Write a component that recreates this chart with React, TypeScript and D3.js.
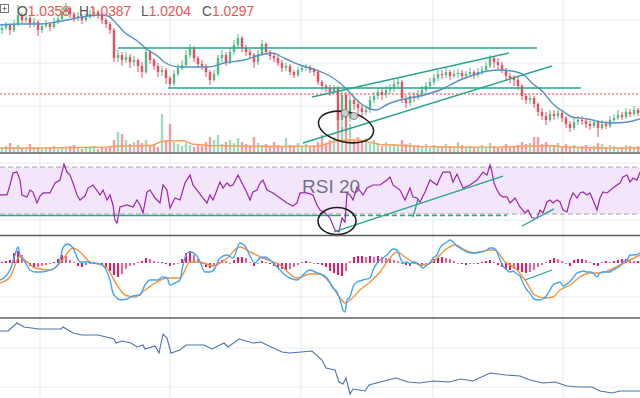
import React from "react";
import * as d3 from "d3";

const W = 640;
const H = 398;
const N = 160;

// candles: open = previous close
const firstOpen = 1.065;
const closes = [
  1.0660, 1.0675, 1.0650, 1.0680, 1.0725, 1.0700, 1.0710, 1.0680, 1.0690, 1.0650,
  1.0670, 1.0680, 1.0665, 1.0690, 1.0705, 1.0740, 1.0760, 1.0730, 1.0710, 1.0720,
  1.0700, 1.0715, 1.0730, 1.0740, 1.0725, 1.0700, 1.0680, 1.0650, 1.0510, 1.0525,
  1.0500, 1.0515, 1.0490, 1.0500, 1.0470, 1.0440, 1.0540, 1.0500, 1.0470, 1.0440,
  1.0450, 1.0410, 1.0380, 1.0430, 1.0460, 1.0475, 1.0525, 1.0560, 1.0510, 1.0480,
  1.0470, 1.0440, 1.0400, 1.0430, 1.0510, 1.0525, 1.0490, 1.0540, 1.0575, 1.0610,
  1.0560, 1.0540, 1.0525, 1.0490, 1.0530, 1.0580, 1.0540, 1.0520, 1.0510, 1.0485,
  1.0460, 1.0470, 1.0440, 1.0425, 1.0450, 1.0460, 1.0465, 1.0450, 1.0440, 1.0390,
  1.0370, 1.0360, 1.0340, 1.0360, 1.0200, 1.0325, 1.0210, 1.0300, 1.0280, 1.0260,
  1.0240, 1.0250, 1.0300, 1.0320, 1.0340, 1.0325, 1.0350, 1.0360, 1.0380, 1.0390,
  1.0310, 1.0285, 1.0320, 1.0310, 1.0330, 1.0350, 1.0370, 1.0390, 1.0410, 1.0430,
  1.0425, 1.0440, 1.0420, 1.0430, 1.0435, 1.0420, 1.0430, 1.0440, 1.0425, 1.0440,
  1.0450, 1.0470, 1.0510, 1.0490, 1.0475, 1.0450, 1.0420, 1.0410, 1.0400, 1.0370,
  1.0320, 1.0300, 1.0310, 1.0280, 1.0240, 1.0220, 1.0200, 1.0230, 1.0220, 1.0235,
  1.0210, 1.0180, 1.0160, 1.0190, 1.0200, 1.0195, 1.0180, 1.0170, 1.0190, 1.0160,
  1.0180, 1.0170, 1.0200, 1.0210, 1.0225, 1.0215, 1.0240, 1.0230, 1.0250, 1.0235,
];
const highs = [
  1.0680, 1.0690, 1.0680, 1.0700, 1.0775, 1.0735, 1.0730, 1.0720, 1.0710, 1.0700,
  1.0685, 1.0700, 1.0690, 1.0710, 1.0725, 1.0770, 1.0785, 1.0770, 1.0740, 1.0740,
  1.0730, 1.0735, 1.0750, 1.0760, 1.0750, 1.0735, 1.0710, 1.0690, 1.0660, 1.0550,
  1.0540, 1.0540, 1.0530, 1.0520, 1.0510, 1.0490, 1.0560, 1.0550, 1.0510, 1.0485,
  1.0470, 1.0460, 1.0420, 1.0450, 1.0480, 1.0500, 1.0550, 1.0580, 1.0570, 1.0520,
  1.0500, 1.0480, 1.0450, 1.0450, 1.0525, 1.0550, 1.0540, 1.0560, 1.0600, 1.0630,
  1.0620, 1.0575, 1.0555, 1.0535, 1.0550, 1.0600, 1.0590, 1.0550, 1.0535, 1.0520,
  1.0500, 1.0485, 1.0480, 1.0450, 1.0465, 1.0475, 1.0480, 1.0475, 1.0460, 1.0450,
  1.0400, 1.0380, 1.0375, 1.0375, 1.0370, 1.0350, 1.0340, 1.0325, 1.0315, 1.0300,
  1.0280, 1.0270, 1.0320, 1.0340, 1.0360, 1.0360, 1.0370, 1.0380, 1.0400, 1.0410,
  1.0400, 1.0325, 1.0340, 1.0340, 1.0350, 1.0370, 1.0390, 1.0410, 1.0430, 1.0450,
  1.0450, 1.0460, 1.0450, 1.0450, 1.0455, 1.0450, 1.0445, 1.0460, 1.0450, 1.0460,
  1.0470, 1.0490, 1.0525, 1.0520, 1.0510, 1.0490, 1.0460, 1.0435, 1.0425, 1.0415,
  1.0380, 1.0330, 1.0325, 1.0320, 1.0290, 1.0260, 1.0240, 1.0250, 1.0250, 1.0255,
  1.0250, 1.0220, 1.0195, 1.0210, 1.0220, 1.0220, 1.0210, 1.0195, 1.0205, 1.0200,
  1.0200, 1.0195, 1.0220, 1.0230, 1.0250, 1.0240, 1.0260, 1.0255, 1.0270, 1.0260,
];
const lows = [
  1.0630, 1.0650, 1.0625, 1.0640, 1.0670, 1.0680, 1.0685, 1.0660, 1.0665, 1.0620,
  1.0635, 1.0660, 1.0645, 1.0655, 1.0680, 1.0695, 1.0725, 1.0710, 1.0690, 1.0695,
  1.0680, 1.0690, 1.0705, 1.0715, 1.0705, 1.0680, 1.0660, 1.0630, 1.0490, 1.0490,
  1.0470, 1.0485, 1.0460, 1.0470, 1.0440, 1.0410, 1.0430, 1.0480, 1.0450, 1.0415,
  1.0420, 1.0380, 1.0360, 1.0370, 1.0420, 1.0450, 1.0460, 1.0510, 1.0490, 1.0460,
  1.0450, 1.0415, 1.0375, 1.0390, 1.0420, 1.0490, 1.0470, 1.0480, 1.0525, 1.0560,
  1.0540, 1.0520, 1.0510, 1.0460, 1.0475, 1.0520, 1.0525, 1.0500, 1.0490, 1.0470,
  1.0440, 1.0445, 1.0425, 1.0410, 1.0415, 1.0440, 1.0445, 1.0435, 1.0420, 1.0375,
  1.0350, 1.0340, 1.0320, 1.0330, 1.0150, 1.0140, 1.0140, 1.0190, 1.0250, 1.0230,
  1.0215, 1.0225, 1.0235, 1.0285, 1.0305, 1.0300, 1.0310, 1.0330, 1.0340, 1.0360,
  1.0285, 1.0260, 1.0270, 1.0290, 1.0300, 1.0315, 1.0335, 1.0355, 1.0375, 1.0395,
  1.0405, 1.0410, 1.0400, 1.0410, 1.0410, 1.0400, 1.0405, 1.0415, 1.0405, 1.0415,
  1.0425, 1.0440, 1.0460, 1.0460, 1.0450, 1.0435, 1.0400, 1.0385, 1.0370, 1.0350,
  1.0300, 1.0280, 1.0280, 1.0260, 1.0220, 1.0200, 1.0175, 1.0190, 1.0200, 1.0205,
  1.0190, 1.0160, 1.0140, 1.0150, 1.0175, 1.0175, 1.0160, 1.0150, 1.0160, 1.0115,
  1.0150, 1.0155, 1.0160, 1.0190, 1.0200, 1.0200, 1.0205, 1.0215, 1.0220, 1.0220,
];
const volumes = [
  100, 150, 225, 125, 175, 100, 75, 200, 125, 100,
  75, 125, 100, 150, 75, 100, 125, 150, 175, 100,
  75, 125, 100, 150, 75, 125, 100, 150, 300, 500,
  450, 300, 200, 250, 300, 225, 300, 150, 200, 125,
  950, 300, 700, 250, 200, 150, 225, 175, 125, 200,
  150, 250, 375, 300, 425, 200, 250, 300, 225, 350,
  250, 200, 150, 375, 225, 175, 200, 150, 250, 175,
  125, 350, 175, 125, 225, 150, 200, 125, 175, 250,
  425, 225, 300, 375, 1000, 625, 925, 700, 300, 375,
  250, 350, 200, 300, 225, 150, 250, 175, 200, 150,
  300, 200, 225, 150, 175, 125, 200, 100, 175, 150,
  125, 200, 150, 125, 250, 175, 125, 150, 100, 125,
  175, 125, 225, 150, 125, 100, 200, 125, 150, 175,
  250, 200, 225, 375, 375, 200, 250, 175, 150, 225,
  150, 200, 125, 175, 100, 150, 175, 125, 150, 225,
  200, 125, 175, 150, 100, 125, 175, 150, 125, 150,
];

// moving average on price, [bar, price]
const priceMa = [
  [0, 1.0675], [5, 1.068], [10, 1.068], [14, 1.069], [18, 1.0705], [22, 1.072], [25, 1.0725], [27, 1.072],
  [29, 1.0685], [31, 1.064], [34, 1.06], [37, 1.055], [40, 1.051], [41, 1.049], [45, 1.0465], [49, 1.0465],
  [52, 1.0465], [56, 1.0485], [61, 1.05], [65, 1.0525], [68, 1.0535], [71, 1.051], [75, 1.0475], [79, 1.045],
  [82, 1.0425], [85, 1.0385], [88, 1.0325], [90, 1.0285], [92, 1.026], [94, 1.025], [97, 1.028], [100, 1.03],
  [105, 1.032], [110, 1.035], [115, 1.04], [120, 1.0435], [122, 1.0445], [125, 1.045], [128, 1.0445],
  [131, 1.0425], [133, 1.0385], [136, 1.0335], [138, 1.0285], [141, 1.024], [143, 1.0215], [147, 1.0205],
  [150, 1.019], [153, 1.0185], [157, 1.019], [160, 1.0205],
];
const volumeMa = [
  [0, 100], [10, 100], [20, 110], [27, 125], [30, 150], [38, 160], [40, 250], [42, 280], [46, 280], [48, 200],
  [52, 160], [60, 150], [70, 140], [80, 150], [84, 275], [86, 300], [90, 300], [92, 250], [95, 190], [100, 170],
  [105, 140], [115, 120], [125, 125], [133, 150], [138, 165], [140, 140], [145, 110], [150, 100], [160, 100],
];

const rsi = [
  [0, 46.2], [1.75, 46.2], [2.5, 54.7], [3.25, 64.9], [4.25, 65.7], [5, 58.9], [5.5, 46.2], [6.75, 44.5], [7.5, 50.4], [8.25, 48.7],
  [9.25, 39.4], [10, 45.3], [10.75, 47.9], [12.5, 47.9], [13.75, 56.4], [15, 58.9], [16, 72.6], [16.75, 65.7], [17.5, 63.2], [18.25, 56.4],
  [19.25, 46.2], [20, 41.9], [21.25, 45.3], [22, 52.1], [23.25, 54.7], [25, 46.2], [25.75, 50.4], [26.75, 41.9], [27.5, 46.2], [28.25, 37.7],
  [28.75, 24.9], [29.25, 22.3], [30, 36.0], [31.75, 37.7], [33.25, 36.0], [34.25, 41.9], [35, 37.7], [35.75, 30.9], [36.75, 48.7], [37.5, 50.4],
  [38.75, 43.6], [40, 39.4], [40.75, 54.7], [41.75, 50.4], [42.5, 35.1], [43.75, 43.6], [45, 41.9], [46.25, 56.4], [47.5, 63.2], [48.25, 54.7],
  [49.25, 50.4], [50.75, 43.6], [51.75, 39.4], [52.5, 46.2], [53.25, 41.9], [54.25, 50.4], [55, 57.2], [55.75, 52.1], [56.75, 56.4], [57.5, 53.8],
  [58.25, 54.7], [59.5, 63.2], [60.75, 54.7], [61.75, 47.9], [62.5, 41.9], [63.25, 48.7], [64.25, 50.4], [65, 56.4], [65.75, 58.9], [66.75, 50.4],
  [68.25, 47.9], [70, 43.6], [71.75, 39.4], [73.25, 36.8], [74.25, 39.4], [75, 47.9], [76.75, 47.9], [78.25, 46.2], [79.25, 37.7], [80, 33.4],
  [81.25, 30.9], [82.5, 26.6], [83.75, 16.4], [84.75, 14.7], [85.5, 26.6], [86.25, 23.2], [86.75, 47.9], [87.5, 46.2], [88.25, 41.9], [89.25, 53.0],
  [90.75, 46.2], [91.75, 52.1], [93.25, 54.7], [95, 54.7], [96.75, 58.9], [97.5, 61.5], [98.25, 54.7], [100, 50.4], [101.25, 41.9], [102.5, 52.1],
  [103.25, 44.5], [104.25, 43.6], [105, 40.2], [106.25, 48.7], [107.5, 58.9], [109.25, 54.7], [110, 60.6], [110.75, 65.7], [112.5, 65.7], [113.25, 57.2],
  [114.25, 64.0], [115.75, 52.1], [117.5, 54.7], [119.25, 58.9], [120.75, 65.7], [121.75, 63.2], [122.5, 71.7], [123, 65.7], [123.5, 56.4], [124.25, 50.4],
  [125, 46.2], [125.75, 44.5], [126.75, 44.5], [127.5, 39.4], [128.75, 43.6], [130, 36.0], [131.25, 30.9], [132, 33.4], [133, 26.6], [134.25, 26.6],
  [135, 33.4], [135.75, 30.9], [136.75, 40.2], [137.5, 41.9], [138.25, 39.4], [139.25, 41.9], [140, 40.2], [140.75, 33.4], [141.75, 31.7], [142.5, 41.9],
  [143.25, 47.9], [144.25, 43.6], [145, 47.9], [145.75, 48.7], [146.75, 46.2], [147.5, 47.9], [148.25, 41.9], [149.25, 33.4], [150, 43.6], [150.75, 48.7],
  [151.75, 47.9], [153.25, 52.1], [154.25, 54.7], [155, 56.4], [155.75, 61.5], [156.75, 63.2], [157.5, 57.2], [158.25, 60.6], [159.25, 58.9], [160, 65.7],
];

// MACD in pips
const macd = [
  [0, -17], [1.25, -14], [2.5, -7], [3.75, 8], [4.5, 16], [5, 8], [6.25, 1], [7.5, -7], [8.75, -9], [10, -9],
  [11.75, -8], [13.75, -5], [15, 3], [15.75, 15], [16.75, 19], [18.25, 15], [19.25, 6], [20, 1], [21.75, 1], [23.25, 0],
  [25, -1], [26.25, -5], [27.5, -17], [28.25, -30], [29.25, -35], [30, -37], [31.75, -36], [33.25, -33], [35, -32], [36.25, -22],
  [37.5, -17], [39.25, -17], [40.75, -14], [41.75, -15], [42.5, -22], [43.75, -20], [45, -17], [45.75, -2], [46.75, 10], [47.5, 11],
  [49.25, 7], [50, 1], [51.25, -9], [52.5, -9], [53.75, -5], [55, 5], [56.75, 8], [58.25, 5], [60, 20], [61.25, 17],
  [62.5, 7], [63.75, 0], [65, 5], [66.25, 6], [67.5, 3], [68.75, -2], [70, -7], [71.25, -12], [72.5, -15], [74.25, -17],
  [75, -15], [76.25, -10], [77.5, -7], [78.75, -9], [80, -11], [81.75, -15], [83.25, -25], [84.25, -29], [85, -37], [85.75, -47],
  [86.25, -49], [86.75, -37], [87.5, -34], [88.25, -24], [89.25, -19], [90.75, -17], [92.5, -15], [93.25, -7], [94.25, 0], [95.75, 5],
  [96.75, 8], [98.25, 14], [99.25, 13], [100, 6], [100.75, 0], [101.75, 1], [102.5, -1], [103.25, 1], [104.25, 0], [105, -3],
  [105.75, -5], [106.75, -2], [107.5, 0], [108.25, 5], [109.25, 8], [110, 15], [111.75, 21], [112.5, 23], [113.25, 21], [114.25, 17],
  [115, 15], [115.75, 13], [116.75, 11], [118.25, 10], [120, 11], [121.75, 13], [122.5, 15], [123.25, 15], [124.25, 11], [125, 3],
  [125.75, -3], [126.75, -7], [127.5, -9], [128.25, -8], [129.25, -11], [130, -13], [130.75, -20], [131.75, -27], [132.5, -30], [133.25, -35],
  [134.25, -37], [135, -37], [135.75, -36], [136.75, -32], [137.5, -27], [138.25, -22], [139.25, -20], [140, -19], [140.75, -23], [141.75, -21],
  [143.25, -15], [144.25, -10], [145, -9], [145.75, -8], [146.75, -9], [147.5, -9], [148.25, -10], [149.25, -14], [150, -10], [150.75, -9],
  [152.5, -9], [153.25, -7], [154.25, -5], [155, -3], [155.75, 1], [156.75, 3], [157.5, 8], [158.75, 8], [160, 10],
];
const signal = [
  [0, -20], [2.5, -14], [5, 7], [6.25, 3], [8.75, -5], [12.5, -7], [15, 0], [18.25, 15], [20, 11], [22.5, 1],
  [26.25, -3], [29.25, -22], [31.25, -32], [33.75, -34], [36.25, -27], [38.75, -20], [41.75, -15], [45, -15], [47.5, 1], [50, 1],
  [53.25, -3], [56.75, 5], [60, 16], [62.5, 11], [65.75, 5], [70, -2], [74.25, -15], [77.5, -11], [80, -11], [82.5, -20],
  [85, -35], [86.25, -40], [87.5, -37], [90, -27], [92.5, -19], [95, -9], [97.5, 5], [99.25, 11], [101.25, 6], [103.75, 0],
  [106.25, -2], [108.75, 3], [111.25, 13], [113.75, 18], [116.25, 13], [118.75, 10], [122.5, 13], [123.75, 13], [126.25, 1], [128.75, -5],
  [131.25, -17], [133.75, -32], [136.25, -35], [138.25, -34], [140, -27], [142.5, -22], [145, -14], [147.5, -10], [150, -10], [152.5, -7],
  [155, -2], [157.5, 3], [160, 8],
];
const histogram = [
  1, 2, 3, 10, 12, 8, 2, -3, -5, -4,
  -3, -2, -1, 1, 4, 8, 7, 3, 1, -3,
  -4, -2, -1, 1, 0, -2, -5, -8, -12, -14,
  -11, -6, -3, -2, 1, 2, 5, 4, 2, 1,
  1, -1, -3, -2, 0, 4, 10, 12, 8, 4,
  0, -4, -5, -3, 1, 3, 2, 0, 3, 6,
  6, 5, 1, -3, 0, 2, 1, -1, -3, -5,
  -6, -7, -6, -4, -2, 1, 2, 1, 0, -1,
  -2, -4, -8, -10, -12, -13, -8, 2, 6, 7,
  7, 6, 7, 6, 7, 6, 5, 4, 3, 2,
  -1, -2, -3, -1, -2, -3, -1, 1, 4, 5,
  6, 5, 4, 2, 0, -1, -2, -1, 0, -1,
  1, 2, 3, 1, -2, -4, -6, -7, -6, -7,
  -9, -10, -9, -7, -4, -2, 1, 3, 5, 4,
  2, 0, -3, 3, 4, 4, 3, 1, -2, -3,
  1, 2, 1, 2, 3, 4, 4, 3, 2, 2,
];

// lower pane comparison line
const compare = [
  [0, 1.089], [2, 1.089], [4.25, 1.097], [6, 1.093], [9.75, 1.091], [15.25, 1.091], [15.75, 1.093], [18.25, 1.087],
  [20.5, 1.085], [24.5, 1.085], [28.5, 1.081], [29, 1.077], [30.5, 1.079], [32.75, 1.077], [34.25, 1.073], [35.75, 1.075],
  [36.25, 1.071], [38.75, 1.074], [39.75, 1.067], [40.75, 1.086], [41.75, 1.082], [42.75, 1.067], [45, 1.07], [46.5, 1.075],
  [51, 1.075], [53, 1.071], [56, 1.077], [57, 1.073], [59.75, 1.081], [63.25, 1.077], [65.25, 1.078], [67.25, 1.074],
  [70.5, 1.068], [72.5, 1.067], [78, 1.069], [80.5, 1.06], [81.5, 1.052], [83.75, 1.05], [84.75, 1.038], [85.75, 1.036],
  [86.5, 1.042], [87.5, 1.026], [88.25, 1.031], [91.25, 1.029], [92.25, 1.035], [96, 1.039], [99, 1.042], [102, 1.038],
  [105, 1.037], [108.25, 1.039], [112.25, 1.038], [115.25, 1.041], [118.25, 1.039], [122.5, 1.047], [126.5, 1.045],
  [130, 1.044], [132.5, 1.04], [135.75, 1.037], [138.75, 1.038], [141.75, 1.034], [144.75, 1.033], [148, 1.033],
  [150, 1.029], [153, 1.027], [155, 1.029], [160, 1.029],
];

const timeGrid = [10, 42.5, 75.25, 108.25, 140.75];
const priceGrid = [1.07, 1.0485, 1.027];
const rsiGrid = [73.4, 24.9];
const macdGrid = [-34];
const compareGrid = [1.072, 1.033];

const ohlcLabels = ["O", "H", "L", "C"];
const ohlcValues = ["1.0358", "1.0387", "1.0204", "1.0297"];

// drawings
const redLevel = 1.033;
const hLevels = [
  { t0: 29.5, t1: 134.25, p: 1.056 },
  { t0: 42, t1: 145.25, p: 1.036 },
];
const channel = [
  { t0: 78, p0: 1.0315, t1: 127.25, p1: 1.0535 },
  { t0: 75.75, p0: 1.0085, t1: 138, p1: 1.047 },
];
const handles = [[86.25, 1.0235], [88.5, 1.022]];
const rsiLines = [
  [[83.5, 14.7], [125.75, 62.3]],
  [[103.25, 27.4], [104.5, 42.8]],
  [[130.5, 19.8], [138.5, 34.3]],
];
const rsiLevel = 28.7;
const macdLines = [[[131.25, -17], [138, -7]]];

const UP = "#53b987";
const DOWN = "#eb4d5c";
const TEAL = "#27a68d";
const GRID = "#e8eef4";
const SEP = "#5e5e5e";
const FONT = "'Liberation Sans', Arial, sans-serif";

export default function App() {
  const x = d3.scaleLinear().domain([0, N]).range([0, W]);
  const py = d3.scaleLinear().domain([1.0, 1.08]).range([160, 0]);
  const vy = d3.scaleLinear().domain([0, 1000]).range([152, 112]);
  const ry = d3.scaleLinear().domain([30, 70]).range([214, 167]);
  const my = d3.scaleLinear().domain([-50, 30]).range([313, 233]);
  const cy = d3.scaleLinear().domain([1.02, 1.1]).range([400, 320]);

  const pairLine = (yScale, curve = d3.curveLinear) =>
    d3.line().x((d) => x(d[0])).y((d) => yScale(d[1])).curve(curve);

  const opens = [firstOpen, ...closes.slice(0, -1)];
  const bw = 2.4;

  return (
    <svg
      width={W}
      height={H}
      style={{ position: "absolute", left: 0, top: 0, background: "#fff" }}
      fontFamily={FONT}
    >
      <defs>
        <clipPath id="pricePane">
          <rect x={0} y={0} width={W} height={153} />
        </clipPath>
        <clipPath id="rsiPane">
          <rect x={0} y={153} width={W} height={82} />
        </clipPath>
        <clipPath id="macdPane">
          <rect x={0} y={236} width={W} height={82} />
        </clipPath>
      </defs>
      <rect width={W} height={H} fill="#fff" />

      {/* grid */}
      {timeGrid.map((t) => (
        <line key={"vg" + t} x1={x(t)} x2={x(t)} y1={0} y2={H} stroke={GRID} strokeWidth={1.2} />
      ))}
      {priceGrid.map((p) => (
        <line key={"pg" + p} x1={0} x2={W} y1={py(p)} y2={py(p)} stroke={GRID} strokeWidth={1.2} />
      ))}
      {rsiGrid.map((v) => (
        <line key={"rg" + v} x1={0} x2={W} y1={ry(v)} y2={ry(v)} stroke={GRID} strokeWidth={1.2} />
      ))}
      {macdGrid.map((v) => (
        <line key={"mg" + v} x1={0} x2={W} y1={my(v)} y2={my(v)} stroke={GRID} strokeWidth={1.2} />
      ))}
      {compareGrid.map((v) => (
        <line key={"cg" + v} x1={0} x2={W} y1={cy(v)} y2={cy(v)} stroke={GRID} strokeWidth={1.2} />
      ))}

      {/* price pane */}
      <g clipPath="url(#pricePane)">
        {volumes.map((v, i) => (
          <rect
            key={"v" + i}
            x={x(i + 0.5) - bw / 2}
            y={vy(v)}
            width={bw}
            height={vy(0) - vy(v)}
            fill={closes[i] >= opens[i] ? UP : DOWN}
            opacity={0.55}
          />
        ))}
        <path d={pairLine(vy)(volumeMa)} fill="none" stroke="#ff9f5a" strokeWidth={1.5} />
        <line x1={0} x2={W} y1={py(redLevel)} y2={py(redLevel)} stroke="#f23645" strokeWidth={1} strokeDasharray="2,2" />
        {closes.map((c, i) => {
          const o = opens[i];
          const col = c >= o ? UP : DOWN;
          const cx = x(i + 0.5);
          const top = py(Math.max(o, c));
          const bot = py(Math.min(o, c));
          return (
            <g key={"c" + i}>
              <line x1={cx} x2={cx} y1={py(highs[i])} y2={py(lows[i])} stroke={col} strokeWidth={1} />
              <rect x={cx - bw / 2} y={top} width={bw} height={Math.max(1, bot - top)} fill={col} />
            </g>
          );
        })}
        <path d={pairLine(py, d3.curveMonotoneX)(priceMa)} fill="none" stroke="#5592c8" strokeWidth={1.4} />
        {hLevels.map((h, i) => (
          <line key={"h" + i} x1={x(h.t0)} x2={x(h.t1)} y1={py(h.p)} y2={py(h.p)} stroke={TEAL} strokeWidth={1.4} />
        ))}
        {channel.map((c, i) => (
          <line key={"ch" + i} x1={x(c.t0)} x2={x(c.t1)} y1={py(c.p0)} y2={py(c.p1)} stroke={TEAL} strokeWidth={1.4} />
        ))}
        <ellipse
          cx={x(86.5)}
          cy={py(1.0165)}
          rx={28}
          ry={15}
          transform={`rotate(12 ${x(86.5)} ${py(1.0165)})`}
          fill="none"
          stroke="#222"
          strokeWidth={1.6}
        />
        {handles.map((h, i) => (
          <circle key={"hd" + i} cx={x(h[0])} cy={py(h[1])} r={3.6} fill="#cfcfcf" stroke="#8c8c8c" strokeWidth={1} />
        ))}
      </g>

      {/* legend */}
      <g>
        <rect x={0.5} y={4.5} width={8} height={8} fill="none" stroke="#777" strokeWidth={1} />
        <line x1={2.5} x2={6.5} y1={8.5} y2={8.5} stroke="#777" strokeWidth={1} />
        <line x1={4.5} x2={4.5} y1={6.5} y2={10.5} stroke="#777" strokeWidth={1} />
        {ohlcLabels.map((l, i) => (
          <text key={"lg" + l} x={[17, 79, 141, 202][i]} y={15.5} fontSize={13.8}>
            <tspan fill="#555">{l}</tspan>
            <tspan fill="#ef5350">{ohlcValues[i]}</tspan>
          </text>
        ))}
      </g>

      <line x1={0} x2={W} y1={153} y2={153} stroke={SEP} strokeWidth={1.5} />

      {/* RSI pane */}
      <g clipPath="url(#rsiPane)">
        <rect x={0} y={ry(70)} width={W} height={ry(30) - ry(70)} fill="#f3e5fa" />
        <line x1={0} x2={W} y1={ry(70)} y2={ry(70)} stroke="#a5a5a5" strokeDasharray="5,3" />
        <line x1={0} x2={W} y1={ry(30)} y2={ry(30)} stroke="#a5a5a5" strokeDasharray="5,3" />
        <text x={302} y={193} fontSize={19} fill="#5a5f78" opacity={0.85}>
          RSI 20
        </text>
        <line x1={x(0)} x2={x(84)} y1={ry(rsiLevel)} y2={ry(rsiLevel)} stroke={TEAL} strokeWidth={1.4} />
        <line x1={x(84)} x2={x(126.75)} y1={ry(rsiLevel)} y2={ry(rsiLevel)} stroke={TEAL} strokeWidth={1.4} strokeDasharray="5,3" />
        <path d={pairLine(ry)(rsi)} fill="none" stroke="#9c27b0" strokeWidth={1.2} />
        {rsiLines.map((l, i) => (
          <path key={"rl" + i} d={pairLine(ry)(l)} stroke={TEAL} strokeWidth={1.3} fill="none" />
        ))}
        <ellipse cx={x(84.25)} cy={ry(24)} rx={19} ry={13.5} fill="none" stroke="#222" strokeWidth={1.6} />
      </g>

      <line x1={0} x2={W} y1={235.5} y2={235.5} stroke={SEP} strokeWidth={1.5} />

      {/* MACD pane */}
      <g clipPath="url(#macdPane)">
        {histogram.map((h, i) => {
          const prev = i > 0 ? Math.abs(histogram[i - 1]) : 0;
          const strong = Math.abs(h) >= prev;
          return (
            <rect
              key={"hg" + i}
              x={x(i + 0.5) - 1}
              y={Math.min(my(h), my(0))}
              width={2}
              height={Math.max(0.8, Math.abs(my(h) - my(0)))}
              fill={strong ? "#ec1863" : "#f06292"}
            />
          );
        })}
        <path d={pairLine(my, d3.curveMonotoneX)(signal)} fill="none" stroke="#f4933b" strokeWidth={1.4} />
        <path d={pairLine(my, d3.curveMonotoneX)(macd)} fill="none" stroke="#42a5f5" strokeWidth={1.4} />
        {macdLines.map((l, i) => (
          <path key={"ml" + i} d={pairLine(my)(l)} stroke={TEAL} strokeWidth={1.3} fill="none" />
        ))}
      </g>

      <line x1={0} x2={W} y1={318} y2={318} stroke={SEP} strokeWidth={1.5} />

      {/* comparison pane */}
      <path d={pairLine(cy)(compare)} fill="none" stroke="#4d72b0" strokeWidth={1.1} />
    </svg>
  );
}
